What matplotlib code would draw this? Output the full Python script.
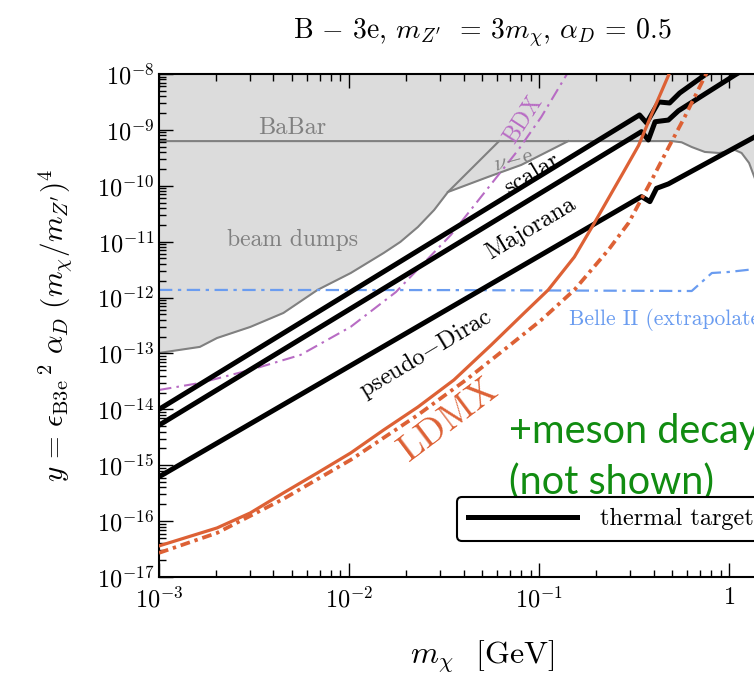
import numpy as np
import matplotlib.pyplot as plt
from matplotlib import ticker
from matplotlib.lines import Line2D

plt.rcParams['font.family'] = 'serif'
plt.rcParams['font.serif'] = ['cmr10']
plt.rcParams['mathtext.fontset'] = 'cm'
plt.rcParams['axes.formatter.use_mathtext'] = True
plt.rcParams['axes.unicode_minus'] = True

# exclusion regions (lower edge of grey area)
dump_m = [1e-3, 1.64e-3, 2.02e-3, 3.02e-3, 4.51e-3, 6.82e-3, 1.02e-2, 1.52e-2, 1.86e-2, 2.3e-2, 2.8e-2, 3.31e-2, 6.15e-2]
dump_y = [1.02e-13, 1.31e-13, 1.89e-13, 2.98e-13, 5.3e-13, 1.37e-12, 2.75e-12, 6.28e-12, 9.9e-12, 1.83e-11, 3.69e-11, 7.74e-11, 6.3e-10]
nue_m = [3.31e-2, 5.38e-2, 8.04e-2, 0.142]
nue_y = [7.74e-11, 1.44e-10, 2.36e-10, 6.3e-10]
babar_m = [1e-3, 0.5, 0.561, 0.634, 0.743, 0.881, 1.07, 1.16, 1.27, 1.36, 1.5, 2.5]
babar_y = [6.3e-10, 6.3e-10, 6.0e-10, 4.94e-10, 4.03e-10, 3.86e-10, 4.37e-10, 3.86e-10, 2.56e-10, 1.38e-10, 6e-11, 1e-11]

# thermal targets
scalar_m = [1e-3, 0.337, 0.367, 0.425, 0.485, 0.548, 0.743, 1.5]
scalar_y = [1.0e-14, 1.85e-9, 1.33e-9, 3.16e-9, 3.03e-9, 4.57e-9, 9.6e-9, 4.0e-8]
major_m = [1e-3, 0.345, 0.375, 0.407, 0.478, 0.54, 1.07, 2.0]
major_y = [5.2e-15, 9.3e-10, 6.6e-10, 1.4e-9, 1.5e-9, 2.2e-9, 9.6e-9, 3.4e-8]
pdirac_m = [1e-3, 0.345, 0.382, 0.414, 0.478, 1.37, 2.5]
pdirac_y = [6.2e-16, 6.4e-11, 5.2e-11, 9.0e-11, 1.08e-10, 7.6e-10, 2.3e-9]

# projections
ldmx_m = [1e-3, 2.02e-3, 3.02e-3, 4.51e-3, 6.82e-3, 1.02e-2, 1.52e-2, 2.3e-2, 3.56e-2, 5.58e-2,
          8.34e-2, 0.1115, 0.153, 0.195, 0.24, 0.277, 0.333, 0.39, 0.485, 0.52]
ldmx_y = [3.6e-17, 7.55e-17, 1.4e-16, 3.19e-16, 7.3e-16, 1.66e-15, 4.28e-15, 1.1e-14, 3.36e-14, 1.41e-13,
          5.31e-13, 1.37e-12, 5.32e-12, 2.16e-11, 7.43e-11, 1.74e-10, 5.25e-10, 1.9e-9, 1.05e-8, 2e-8]
ldmx2_m = [1e-3, 2.02e-3, 4.51e-3, 1.02e-2, 2.3e-2, 4.12e-2, 6.85e-2, 0.1026, 0.153, 0.231, 0.295,
           0.39, 0.48, 0.582, 0.76, 0.82]
ldmx2_y = [2.7e-17, 6.15e-17, 2.49e-16, 1.25e-15, 7.94e-15, 3.36e-14, 1.32e-13, 3.97e-13, 1.37e-12, 7.1e-12, 2.16e-11,
           1.26e-10, 4.94e-10, 1.7e-9, 1.05e-8, 2e-8]
bdx_m = [1e-3, 1.64e-3, 3.02e-3, 5.55e-3, 1.02e-2, 1.76e-2, 3.43e-2, 5.13e-2, 7.75e-2, 0.1025, 0.139, 0.15]
bdx_y = [2.22e-14, 2.96e-14, 5.07e-14, 9.4e-14, 3.0e-13, 1.25e-12, 1.32e-11, 7.43e-11, 4.37e-10, 1.7e-9, 9.6e-9, 1.5e-8]
belle_m = [1e-3, 3.43e-2, 0.634, 0.809, 0.993, 1.38, 2.5]
belle_y = [1.37e-12, 1.36e-12, 1.31e-12, 2.75e-12, 2.87e-12, 3.25e-12, 3.3e-12]

ymax = 1e-8
grey = '#dcdcdc'
grey_line = '#808080'
orange = '#dd6135'
purple = '#b86cc4'
blue = '#6a9cf0'
green = '#118c11'

fig = plt.figure(figsize=(7.54, 6.75), dpi=100)
ax = fig.add_axes([159/754, 98/675, 646/754, 503/675])

ax.fill_between(dump_m, dump_y, ymax, color=grey, lw=0, zorder=0)
ax.fill_between(nue_m, nue_y, ymax, color=grey, lw=0, zorder=0)
ax.fill_between(babar_m, babar_y, ymax, color=grey, lw=0, zorder=0)
ax.plot(dump_m, dump_y, color=grey_line, lw=1.5, zorder=1)
ax.plot(nue_m, nue_y, color=grey_line, lw=1.5, zorder=1)
ax.plot(babar_m, babar_y, color=grey_line, lw=1.5, zorder=1)

ax.plot(belle_m, belle_y, color=blue, lw=1.6, ls=(0, (6, 2.5, 1.5, 2.5)), zorder=2)
ax.plot(bdx_m, bdx_y, color=purple, lw=1.5, ls=(0, (6, 2.5, 1.2, 2.5)), zorder=2)

for m, y in [(scalar_m, scalar_y), (major_m, major_y), (pdirac_m, pdirac_y)]:
    ax.plot(m, y, color='black', lw=3.6, solid_joinstyle='round', solid_capstyle='round', zorder=3)

ax.plot(ldmx_m, ldmx_y, color=orange, lw=2.3, zorder=4)
ax.plot(ldmx2_m, ldmx2_y, color=orange, lw=2.7, ls=(0, (2.6, 1.3, 0.9, 1.3)), zorder=4)

ax.set_xscale('log')
ax.set_yscale('log')
ax.set_xlim(1e-3, 2.5)
ax.set_ylim(1e-17, 1e-8)

ax.yaxis.set_major_locator(ticker.LogLocator(base=10, numticks=20))
ax.yaxis.set_minor_locator(ticker.LogLocator(base=10, subs=np.arange(2, 10), numticks=100))
ax.xaxis.set_minor_locator(ticker.LogLocator(base=10, subs=np.arange(2, 10), numticks=100))
ax.xaxis.set_major_formatter(ticker.FuncFormatter(
    lambda v, p: r'$1$' if abs(v - 1) < 1e-9 else r'$10^{%d}$' % int(round(np.log10(v)))))
ax.yaxis.set_minor_formatter(ticker.NullFormatter())
ax.xaxis.set_minor_formatter(ticker.NullFormatter())
ax.tick_params(which='both', direction='in', top=True, right=True, labelsize=17.5)
ax.tick_params(which='major', length=10, width=1)
ax.tick_params(which='minor', length=5, width=1)
ax.tick_params(axis='x', which='major', pad=7)
for s in ax.spines.values():
    s.set_linewidth(1.5)

ax.set_xlabel(r'$m_\chi$  [GeV]', fontsize=23, labelpad=19)
ax.set_ylabel(r'$y\,=\,{\epsilon_{\rm B3e}}^{\,2}\ \alpha_D\ (m_\chi/m_{Z^\prime})^4$', fontsize=21, labelpad=16)
ax.set_title(r'B $-$ 3e, $m_{Z^\prime}\ $ = 3$m_\chi$, $\alpha_D$ = 0.5', fontsize=20, pad=25)

ax.text(5.03e-3, 1.08e-9, 'BaBar', color=grey_line, fontsize=17.5, ha='center', va='center')
ax.text(5.03e-3, 1.07e-11, 'beam dumps', color=grey_line, fontsize=17, ha='center', va='center')
ax.text(7.3e-2, 2.9e-10, r'$\nu\!-\!\mathrm{e}$', color=grey_line, fontsize=16, ha='center', va='center', rotation=15)
ax.text(8.24e-2, 1.5e-9, 'BDX', color=purple, fontsize=17, ha='center', va='center', rotation=57)
ax.text(9.2e-2, 1.63e-10, 'scalar', color='black', fontsize=17.5, ha='center', va='center', rotation=31)
ax.text(9.0e-2, 1.76e-11, 'Majorana', color='black', fontsize=17.5, ha='center', va='center', rotation=31)
ax.text(2.54e-2, 9.8e-14, r'pseudo$-$Dirac', color='black', fontsize=17.5, ha='center', va='center', rotation=31)
ax.text(3.35e-2, 6.45e-15, 'LDMX', color=orange, fontsize=27, ha='center', va='center', rotation=37)
ax.text(0.144, 3.98e-13, 'Belle II (extrapolated)', color=blue, fontsize=15.5, ha='left', va='center')
ax.text(6.95e-2, 4.0e-15, '+meson decays', color=green, fontsize=28.5, family='Lato', ha='left', va='center')
ax.text(6.95e-2, 5.0e-16, '(not shown)', color=green, fontsize=28.5, family='Lato', ha='left', va='center')

handle = Line2D([], [], color='black', lw=3.6)
leg = ax.legend([handle], ['thermal target'], fontsize=17.5, loc='upper left',
                bbox_to_anchor=(457/754, 1 - 497/675), bbox_transform=fig.transFigure,
                borderaxespad=0, handlelength=4.5, handletextpad=0.95, fancybox=True,
                framealpha=1, edgecolor='black', borderpad=0.45)
leg.get_frame().set_linewidth(1.5)

fig.savefig('out.png', dpi=100)
